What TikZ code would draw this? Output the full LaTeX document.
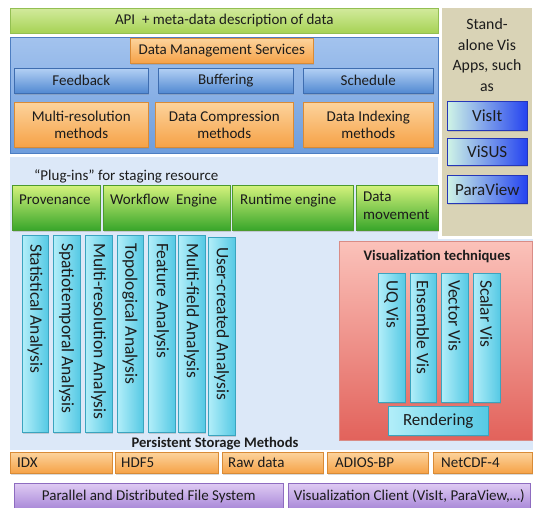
\documentclass[tikz,border=0pt]{standalone}
\usepackage{fontspec}
\setmainfont{Carlito}
\usetikzlibrary{shadows}

% colours
\definecolor{txt}{HTML}{1C1C1C}
\definecolor{stagebg}{HTML}{DCE8F8}
\definecolor{apiT}{HTML}{D2EA9C}
\definecolor{apiB}{HTML}{A6D254}
\definecolor{apiD}{HTML}{93BF52}
\definecolor{dmT}{HTML}{A3C3EE}
\definecolor{dmB}{HTML}{6E9DDC}
\definecolor{dmD}{HTML}{4D7EC2}
\definecolor{btnT}{HTML}{B3D0F4}
\definecolor{btnB}{HTML}{5189D2}
\definecolor{btnD}{HTML}{3E6DB0}
\definecolor{orT}{HTML}{FCD39C}
\definecolor{orB}{HTML}{F6A247}
\definecolor{orD}{HTML}{D98B36}
\definecolor{grT}{HTML}{D4F27C}
\definecolor{grB}{HTML}{38A62A}
\definecolor{grD}{HTML}{4C9A2E}
\definecolor{tan}{HTML}{D9D3B6}
\definecolor{appL}{HTML}{CFF4E6}
\definecolor{appR}{HTML}{2443F0}
\definecolor{appD}{HTML}{2536B8}
\definecolor{cyL}{HTML}{B2EEF9}
\definecolor{cyR}{HTML}{55C9E4}
\definecolor{cyD}{HTML}{3AA4BF}
\definecolor{redT}{HTML}{FBC2BA}
\definecolor{redB}{HTML}{E2625B}
\definecolor{redD}{HTML}{D98C86}
\definecolor{puT}{HTML}{DFCBF3}
\definecolor{puB}{HTML}{A887D8}
\definecolor{puD}{HTML}{8E6CC0}

\begin{document}
\begin{tikzpicture}[x=1pt,y=-1pt,
  every node/.style={inner sep=0pt, text=txt, font=\fontsize{15}{17}\selectfont},
  pane/.style={rectangle, anchor=north west},
  shade/.style={drop shadow={shadow xshift=1pt, shadow yshift=-1.5pt, opacity=0.3}},
  apibar/.style={pane, draw=apiD, line width=0.6pt, top color=apiT, bottom color=apiB},
  dmbox/.style={pane, draw=dmD, line width=0.8pt, top color=dmT, bottom color=dmB},
  bluebtn/.style={pane, shade, draw=btnD, line width=0.5pt, top color=btnT, bottom color=btnB},
  orangebox/.style={pane, shade, draw=orD, line width=0.5pt, top color=orT, bottom color=orB},
  greenbox/.style={pane, shade, draw=grD, line width=0.5pt, top color=grT, bottom color=grB},
  appbtn/.style={pane, shade, draw=appD, line width=0.5pt, left color=appL, right color=appR,
    font=\fontsize{17}{20}\selectfont},
  cyanbar/.style={pane, shade, draw=cyD, line width=0.5pt, left color=cyL, right color=cyR},
  redbox/.style={pane, draw=redD, line width=0.5pt, top color=redT, bottom color=redB},
  purplebox/.style={pane, shade, draw=puD, line width=0.5pt, top color=puT, bottom color=puB},
  vtext/.style={rotate=-90, anchor=west, font=\fontsize{17.5}{20}\selectfont},
  ltext/.style={anchor=base west},
  boldtitle/.style={font=\fontsize{14.6}{17}\bfseries\selectfont}
]
\useasboundingbox (0,0) rectangle (533,508);

% light blue staging area
\fill[stagebg] (10,157) rectangle (438,450);
\fill[stagebg] (438,239) rectangle (533,450);

% API layer
\node[apibar, minimum width=428, minimum height=25] (api) at (10,8) {API\ \ + meta-data description of data};

% data management services
\node[dmbox, minimum width=428, minimum height=116] (dm) at (10,37) {};
\node[orangebox, minimum width=183, minimum height=25] (dms) at (130,38) {Data Management Services};
\node[bluebtn, minimum width=134, minimum height=25] (feedback) at (14,68) {Feedback};
\node[bluebtn, minimum width=135, minimum height=25] (buffering) at (158,68) {Buffering};
\node[bluebtn, minimum width=130, minimum height=25] (schedule) at (303,68) {Schedule};
\node[orangebox, minimum width=134, minimum height=45, align=center] (multires) at (14,102) {Multi-resolution\\methods};
\node[orangebox, minimum width=138, minimum height=45, align=center] (compress) at (155,102) {Data Compression\\methods};
\node[orangebox, minimum width=130, minimum height=45, align=center] (indexing) at (303,102) {Data Indexing\\methods};

% stand-alone vis apps
\fill[tan] (442,8) rectangle (532,236);
\node[align=center, font=\fontsize{15.8}{20.5}\selectfont] (standalone) at (487,55) {Stand-\\alone Vis\\Apps, such\\as};
\node[appbtn, minimum width=80, minimum height=29] (visit) at (447,101) {VisIt};
\node[appbtn, minimum width=80, minimum height=27] (visus) at (447,138) {ViSUS};
\node[appbtn, minimum width=80, minimum height=28] (paraview) at (447,175) {ParaView};

% plug-ins for staging resource
\node[anchor=base west] (plugins) at (34,180) {\char"201C Plug-ins\char"201D{} for staging resource};
\node[greenbox, minimum width=88, minimum height=45] (prov) at (12,185) {};
\node[greenbox, minimum width=127, minimum height=45] (workflow) at (103,185) {};
\node[greenbox, minimum width=121, minimum height=45] (runtime) at (232,185) {};
\node[greenbox, minimum width=82, minimum height=45] (datamove) at (356,185) {};
\node[ltext] (provt) at (19,204.5) {Provenance};
\node[ltext] (workflowt) at (110,204.5) {Workflow\ \ Engine};
\node[ltext] (runtimet) at (240,204.5) {Runtime engine};
\node[anchor=north west, align=left, font=\fontsize{15}{18}\selectfont] (datamovet) at (363,192) {Data\\movement};

% analysis plug-ins
\node[cyanbar, minimum width=26, minimum height=197] (stat) at (22,235) {};
\node[cyanbar, minimum width=27, minimum height=197] (spatio) at (53,235) {};
\node[cyanbar, minimum width=27, minimum height=197] (mres) at (85,235) {};
\node[cyanbar, minimum width=26, minimum height=197] (topo) at (117,235) {};
\node[cyanbar, minimum width=27, minimum height=197] (feat) at (148,235) {};
\node[cyanbar, minimum width=27, minimum height=197] (mfield) at (178,235) {};
\node[cyanbar, minimum width=27, minimum height=198] (user) at (208,237) {};
\node[vtext] (statt) at (35,244) {Statistical Analysis};
\node[vtext] (spatiot) at (66.5,243) {Spatiotemporal Analysis};
\node[vtext] (mrest) at (98.5,243) {Multi-resolution Analysis};
\node[vtext] (topot) at (130,243) {Topological Analysis};
\node[vtext] (featt) at (161.5,243) {Feature Analysis};
\node[vtext] (mfieldt) at (191.5,243) {Multi-field Analysis};
\node[vtext] (usert) at (221.5,247) {User-created Analysis};

% visualization techniques
\node[redbox, minimum width=193, minimum height=199] (vistech) at (339,241) {};
\node[boldtitle] (vistecht) at (437,257) {Visualization techniques};
\node[cyanbar, minimum width=27, minimum height=129] (uq) at (378,273) {};
\node[cyanbar, minimum width=26, minimum height=129] (ensemble) at (410,273) {};
\node[cyanbar, minimum width=27, minimum height=129] (vector) at (441,273) {};
\node[cyanbar, minimum width=27, minimum height=129] (scalar) at (473,273) {};
\node[vtext] (uqt) at (391.5,280) {UQ Vis};
\node[vtext] (ensemblet) at (423,280) {Ensemble Vis};
\node[vtext] (vectort) at (454.5,280) {Vector Vis};
\node[vtext] (scalart) at (486.5,280) {Scalar Vis};
\node[cyanbar, minimum width=100, minimum height=29, font=\fontsize{17}{20}\selectfont] (render) at (388,406) {Rendering};

% persistent storage
\node[boldtitle] (storage) at (215,444) {Persistent Storage Methods};
\node[orangebox, minimum width=102, minimum height=21] (idx) at (10,452) {};
\node[orangebox, minimum width=103, minimum height=21] (hdf) at (115,452) {};
\node[orangebox, minimum width=101, minimum height=21] (raw) at (222,452) {};
\node[orangebox, minimum width=101, minimum height=21] (adios) at (327,452) {};
\node[orangebox, minimum width=99, minimum height=21] (netcdf) at (433,452) {};
\node[anchor=west] (idxt) at (17,462.5) {IDX};
\node[anchor=west] (hdft) at (121,462.5) {HDF5};
\node[anchor=west] (rawt) at (228,462.5) {Raw data};
\node[anchor=west] (adiost) at (335,462.5) {ADIOS-BP};
\node[anchor=west] (netcdft) at (441,462.5) {NetCDF-4};

% file system and client
\node[purplebox, minimum width=269, minimum height=26] (pfs) at (14,483) {Parallel and Distributed File System};
\node[purplebox, minimum width=242, minimum height=26] (client) at (288,483) {Visualization Client (VisIt, ParaView,\dots)};
\end{tikzpicture}
\end{document}
